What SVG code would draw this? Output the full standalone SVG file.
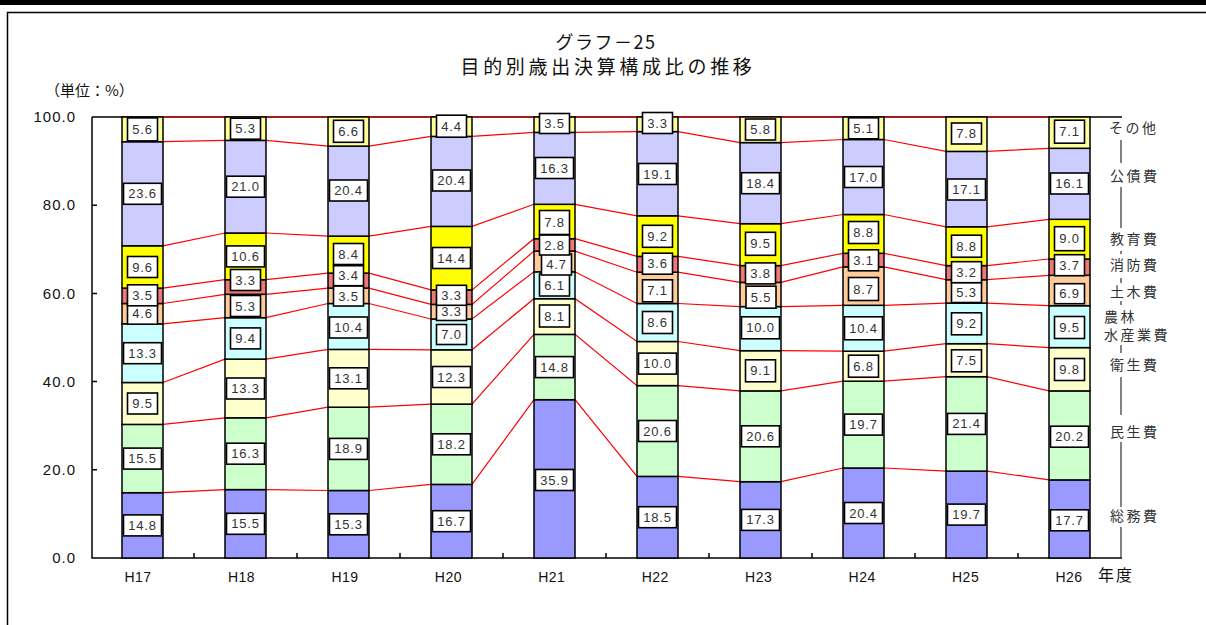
<svg xmlns="http://www.w3.org/2000/svg" width="1206" height="625" viewBox="0 0 1206 625">
<style>
.s1{fill:#9999FF}.s2{fill:#CCFFCC}.s3{fill:#FFFFCC}.s4{fill:#CCFFFF}.s5{fill:#FFCC99}.s6{fill:#F07878}.s7{fill:#FFFF00}.s8{fill:#CCCCFF}.s9{fill:#FFFF99}
.bar rect{stroke:#000;stroke-width:1.5}
.bar rect.lb{fill:#fff;stroke:#000;stroke-width:1.6}
.v{font-family:"Liberation Sans",Arial,sans-serif;font-size:13px;fill:#333;text-anchor:middle;letter-spacing:0.8px}
.conn polyline{fill:none;stroke:#FF0000;stroke-width:1.2}
.ax{stroke:#000;stroke-width:1.5;fill:none}
.yt{font-family:"Liberation Sans",Arial,sans-serif;font-size:15px;text-anchor:end;fill:#111;letter-spacing:1px}
.xt{font-family:"Liberation Sans",Arial,sans-serif;font-size:14px;text-anchor:middle;fill:#111;letter-spacing:0.5px}
.jp{font-family:"Noto Sans CJK JP",sans-serif;fill:#111}
.lg{font-family:"Noto Sans CJK JP",sans-serif;font-size:14px;fill:#333;letter-spacing:2.5px}
.lgl{stroke:#333;stroke-width:1.2}
</style>
<rect x="0" y="0" width="1206" height="625" fill="#fff"/>
<rect x="0" y="0" width="1206" height="5" fill="#000"/>
<rect x="7.5" y="12.5" width="1220" height="700" fill="none" stroke="#000" stroke-width="1.5"/>

<g id="title">
<text class="jp" x="606" y="48.5" font-size="18" letter-spacing="1.5" text-anchor="middle">グラフ－25</text>
<text class="jp" x="608" y="74" font-size="19" letter-spacing="3.7" text-anchor="middle">目的別歳出決算構成比の推移</text>
<text class="jp" x="45" y="96" font-size="15">（単位：%）</text>
</g>

<g id="axes">
<path class="ax" d="M92,117H1122M92,117V558H1122"/>
<path class="ax" d="M92,205.2H97M92,293.4H97M92,381.6H97M92,469.8H97"/>
<path class="ax" d="M194,558V553M297,558V553M400,558V553M503,558V553M606,558V553M709,558V553M812,558V553M915,558V553M1018,558V553"/>
<text class="yt" x="76" y="122">100.0</text>
<text class="yt" x="76" y="210">80.0</text>
<text class="yt" x="76" y="298.5">60.0</text>
<text class="yt" x="76" y="386.5">40.0</text>
<text class="yt" x="76" y="475">20.0</text>
<text class="yt" x="76" y="563">0.0</text>
<text class="xt" x="138" y="582">H17</text>
<text class="xt" x="241.5" y="582">H18</text>
<text class="xt" x="345" y="582">H19</text>
<text class="xt" x="448.4" y="582">H20</text>
<text class="xt" x="551.8" y="582">H21</text>
<text class="xt" x="655.3" y="582">H22</text>
<text class="xt" x="758.7" y="582">H23</text>
<text class="xt" x="862.2" y="582">H24</text>
<text class="xt" x="965.6" y="582">H25</text>
<text class="xt" x="1069" y="582">H26</text>
<text class="jp" x="1098" y="581" font-size="16" letter-spacing="2">年度</text>
</g>

<g id="connectors" class="conn">
<polyline points="163,117 1049,117"/>
<polyline points="163,492.7 225,489.6 266,489.6 328,490.5 369,490.5 431,484.4 472,484.4 534,399.7 575,399.7 637,476.4 678,476.4 740,481.7 781,481.7 843,468 884,468 946,471.1 987,471.1 1049,479.9"/>
<polyline points="163,424.4 225,417.8 266,417.8 328,407.2 369,407.2 431,404.1 472,404.1 534,334.4 575,334.4 637,385.6 678,385.6 740,390.9 781,390.9 843,381.2 884,381.2 946,376.7 987,376.7 1049,390.9"/>
<polyline points="163,382.5 225,359.1 266,359.1 328,349.4 369,349.4 431,349.8 472,349.8 534,298.7 575,298.7 637,341.5 678,341.5 740,350.7 781,350.7 843,351.2 884,351.2 946,343.7 987,343.7 1049,347.6"/>
<polyline points="163,323.8 225,317.7 266,317.7 328,303.5 369,303.5 431,319 472,319 534,271.8 575,271.8 637,303.5 678,303.5 740,306.6 781,306.6 843,305.3 884,305.3 946,303.1 987,303.1 1049,305.7"/>
<polyline points="163,303.5 225,294.3 266,294.3 328,288.1 369,288.1 431,304.4 472,304.4 534,251.1 575,251.1 637,272.2 678,272.2 740,282.4 781,282.4 843,266.9 884,266.9 946,279.7 987,279.7 1049,275.3"/>
<polyline points="163,288.1 225,279.7 266,279.7 328,273.1 369,273.1 431,289.9 472,289.9 534,238.7 575,238.7 637,256.4 678,256.4 740,265.6 781,265.6 843,253.3 884,253.3 946,265.6 987,265.6 1049,259"/>
<polyline points="163,245.8 225,233 266,233 328,236.1 369,236.1 431,226.4 472,226.4 534,204.3 575,204.3 637,215.8 678,215.8 740,223.7 781,223.7 843,214.5 884,214.5 946,226.8 987,226.8 1049,219.3"/>
<polyline points="163,141.7 225,140.4 266,140.4 328,146.1 369,146.1 431,136.4 472,136.4 534,132.4 575,132.4 637,131.6 678,131.6 740,142.6 781,142.6 843,139.5 884,139.5 946,151.4 987,151.4 1049,148.3"/>
</g>

<g id="bar-H17" class="bar">
<rect class="s1" x="122" y="492.7" width="41" height="65.3"/>
<rect class="s2" x="122" y="424.4" width="41" height="68.3"/>
<rect class="s3" x="122" y="382.5" width="41" height="41.9"/>
<rect class="s4" x="122" y="323.8" width="41" height="58.7"/>
<rect class="s5" x="122" y="303.5" width="41" height="20.3"/>
<rect class="s6" x="122" y="288.1" width="41" height="15.4"/>
<rect class="s7" x="122" y="245.8" width="41" height="42.3"/>
<rect class="s8" x="122" y="141.7" width="41" height="104.1"/>
<rect class="s9" x="122" y="117" width="41" height="24.7"/>
<g transform="translate(142.5,525.4)"><rect class="lb" x="-19" y="-10.5" width="38" height="21"/><text class="v" y="4.5">14.8</text></g>
<g transform="translate(142.5,458.6)"><rect class="lb" x="-19" y="-10.5" width="38" height="21"/><text class="v" y="4.5">15.5</text></g>
<g transform="translate(142.5,403.5)"><rect class="lb" x="-15" y="-10.5" width="30" height="21"/><text class="v" y="4.5">9.5</text></g>
<g transform="translate(142.5,353.2)"><rect class="lb" x="-19" y="-10.5" width="38" height="21"/><text class="v" y="4.5">13.3</text></g>
<g transform="translate(142.5,313.7)"><rect class="lb" x="-15" y="-10.5" width="30" height="21"/><text class="v" y="4.5">4.6</text></g>
<g transform="translate(142.5,295.3)"><rect class="lb" x="-15" y="-10.5" width="30" height="21"/><text class="v" y="4.5">3.5</text></g>
<g transform="translate(142.5,267)"><rect class="lb" x="-15" y="-10.5" width="30" height="21"/><text class="v" y="4.5">9.6</text></g>
<g transform="translate(142.5,193.8)"><rect class="lb" x="-19" y="-10.5" width="38" height="21"/><text class="v" y="4.5">23.6</text></g>
<g transform="translate(142.5,129.4)"><rect class="lb" x="-15" y="-11.5" width="30" height="23"/><text class="v" y="4.5">5.6</text></g>
</g>

<g id="bar-H18" class="bar">
<rect class="s1" x="225" y="489.6" width="41" height="68.4"/>
<rect class="s2" x="225" y="417.8" width="41" height="71.8"/>
<rect class="s3" x="225" y="359.1" width="41" height="58.7"/>
<rect class="s4" x="225" y="317.7" width="41" height="41.4"/>
<rect class="s5" x="225" y="294.3" width="41" height="23.4"/>
<rect class="s6" x="225" y="279.7" width="41" height="14.6"/>
<rect class="s7" x="225" y="233" width="41" height="46.7"/>
<rect class="s8" x="225" y="140.4" width="41" height="92.6"/>
<rect class="s9" x="225" y="117" width="41" height="23.4"/>
<g transform="translate(245.5,523.8)"><rect class="lb" x="-19" y="-10.5" width="38" height="21"/><text class="v" y="4.5">15.5</text></g>
<g transform="translate(245.5,453.7)"><rect class="lb" x="-19" y="-10.5" width="38" height="21"/><text class="v" y="4.5">16.3</text></g>
<g transform="translate(245.5,388.5)"><rect class="lb" x="-19" y="-10.5" width="38" height="21"/><text class="v" y="4.5">13.3</text></g>
<g transform="translate(245.5,338.4)"><rect class="lb" x="-15" y="-10.5" width="30" height="21"/><text class="v" y="4.5">9.4</text></g>
<g transform="translate(245.5,306)"><rect class="lb" x="-15" y="-10.5" width="30" height="21"/><text class="v" y="4.5">5.3</text></g>
<g transform="translate(245.5,280)"><rect class="lb" x="-15" y="-10.5" width="30" height="21"/><text class="v" y="4.5">3.3</text></g>
<g transform="translate(245.5,256.4)"><rect class="lb" x="-19" y="-10.5" width="38" height="21"/><text class="v" y="4.5">10.6</text></g>
<g transform="translate(245.5,186.7)"><rect class="lb" x="-19" y="-10.5" width="38" height="21"/><text class="v" y="4.5">21.0</text></g>
<g transform="translate(245.5,128.7)"><rect class="lb" x="-15" y="-10.5" width="30" height="21"/><text class="v" y="4.5">5.3</text></g>
</g>

<g id="bar-H19" class="bar">
<rect class="s1" x="328" y="490.5" width="41" height="67.5"/>
<rect class="s2" x="328" y="407.2" width="41" height="83.3"/>
<rect class="s3" x="328" y="349.4" width="41" height="57.8"/>
<rect class="s4" x="328" y="303.5" width="41" height="45.9"/>
<rect class="s5" x="328" y="288.1" width="41" height="15.4"/>
<rect class="s6" x="328" y="273.1" width="41" height="15"/>
<rect class="s7" x="328" y="236.1" width="41" height="37"/>
<rect class="s8" x="328" y="146.1" width="41" height="90"/>
<rect class="s9" x="328" y="117" width="41" height="29.1"/>
<g transform="translate(348.5,524.3)"><rect class="lb" x="-19" y="-10.5" width="38" height="21"/><text class="v" y="4.5">15.3</text></g>
<g transform="translate(348.5,448.9)"><rect class="lb" x="-19" y="-10.5" width="38" height="21"/><text class="v" y="4.5">18.9</text></g>
<g transform="translate(348.5,378.3)"><rect class="lb" x="-19" y="-10.5" width="38" height="21"/><text class="v" y="4.5">13.1</text></g>
<g transform="translate(348.5,327.5)"><rect class="lb" x="-19" y="-10.5" width="38" height="21"/><text class="v" y="4.5">10.4</text></g>
<g transform="translate(348.5,296)"><rect class="lb" x="-15" y="-10" width="30" height="20"/><text class="v" y="4.5">3.5</text></g>
<g transform="translate(348.5,275.7)"><rect class="lb" x="-15" y="-10" width="30" height="20"/><text class="v" y="4.5">3.4</text></g>
<g transform="translate(348.5,254)"><rect class="lb" x="-15" y="-10.5" width="30" height="21"/><text class="v" y="4.5">8.4</text></g>
<g transform="translate(348.5,190.5)"><rect class="lb" x="-19" y="-10.5" width="38" height="21"/><text class="v" y="4.5">20.4</text></g>
<g transform="translate(348.5,131.3)"><rect class="lb" x="-15" y="-11" width="30" height="22"/><text class="v" y="4.5">6.6</text></g>
</g>

<g id="bar-H20" class="bar">
<rect class="s1" x="431" y="484.4" width="41" height="73.6"/>
<rect class="s2" x="431" y="404.1" width="41" height="80.3"/>
<rect class="s3" x="431" y="349.8" width="41" height="54.3"/>
<rect class="s4" x="431" y="319" width="41" height="30.8"/>
<rect class="s5" x="431" y="304.4" width="41" height="14.6"/>
<rect class="s6" x="431" y="289.9" width="41" height="14.5"/>
<rect class="s7" x="431" y="226.4" width="41" height="63.5"/>
<rect class="s8" x="431" y="136.4" width="41" height="90"/>
<rect class="s9" x="431" y="117" width="41" height="19.4"/>
<g transform="translate(451.5,521.2)"><rect class="lb" x="-19" y="-10.5" width="38" height="21"/><text class="v" y="4.5">16.7</text></g>
<g transform="translate(451.5,444.3)"><rect class="lb" x="-19" y="-10.5" width="38" height="21"/><text class="v" y="4.5">18.2</text></g>
<g transform="translate(451.5,377)"><rect class="lb" x="-19" y="-10.5" width="38" height="21"/><text class="v" y="4.5">12.3</text></g>
<g transform="translate(451.5,334.5)"><rect class="lb" x="-15" y="-10" width="30" height="20"/><text class="v" y="4.5">7.0</text></g>
<g transform="translate(451.5,311.5)"><rect class="lb" x="-15" y="-9" width="30" height="18"/><text class="v" y="4.5">3.3</text></g>
<g transform="translate(451.5,295.3)"><rect class="lb" x="-15" y="-10" width="30" height="20"/><text class="v" y="4.5">3.3</text></g>
<g transform="translate(451.5,258)"><rect class="lb" x="-19" y="-10.5" width="38" height="21"/><text class="v" y="4.5">14.4</text></g>
<g transform="translate(451.5,180.5)"><rect class="lb" x="-19" y="-10.5" width="38" height="21"/><text class="v" y="4.5">20.4</text></g>
<g transform="translate(451.5,126.2)"><rect class="lb" x="-15" y="-11" width="30" height="22"/><text class="v" y="4.5">4.4</text></g>
</g>

<g id="bar-H21" class="bar">
<rect class="s1" x="534" y="399.7" width="41" height="158.3"/>
<rect class="s2" x="534" y="334.4" width="41" height="65.3"/>
<rect class="s3" x="534" y="298.7" width="41" height="35.7"/>
<rect class="s4" x="534" y="271.8" width="41" height="26.9"/>
<rect class="s5" x="534" y="251.1" width="41" height="20.7"/>
<rect class="s6" x="534" y="238.7" width="41" height="12.4"/>
<rect class="s7" x="534" y="204.3" width="41" height="34.4"/>
<rect class="s8" x="534" y="132.4" width="41" height="71.9"/>
<rect class="s9" x="534" y="117" width="41" height="15.4"/>
<g transform="translate(554.5,480)"><rect class="lb" x="-19" y="-10.5" width="38" height="21"/><text class="v" y="4.5">35.9</text></g>
<g transform="translate(554.5,367.1)"><rect class="lb" x="-19" y="-10.5" width="38" height="21"/><text class="v" y="4.5">14.8</text></g>
<g transform="translate(554.5,316)"><rect class="lb" x="-15" y="-11" width="30" height="22"/><text class="v" y="4.5">8.1</text></g>
<g transform="translate(554.5,285)"><rect class="lb" x="-15" y="-11" width="30" height="22"/><text class="v" y="4.5">6.1</text></g>
<g transform="translate(556.5,264.5)"><rect class="lb" x="-15" y="-10.5" width="30" height="21"/><text class="v" y="4.5">4.7</text></g>
<g transform="translate(554.5,245)"><rect class="lb" x="-15" y="-10" width="30" height="20"/><text class="v" y="4.5">2.8</text></g>
<g transform="translate(554.5,222.5)"><rect class="lb" x="-15" y="-12" width="30" height="24"/><text class="v" y="4.5">7.8</text></g>
<g transform="translate(554.5,168)"><rect class="lb" x="-19" y="-10.5" width="38" height="21"/><text class="v" y="4.5">16.3</text></g>
<g transform="translate(554.5,123.5)"><rect class="lb" x="-15" y="-10" width="30" height="20"/><text class="v" y="4.5">3.5</text></g>
</g>

<g id="bar-H22" class="bar">
<rect class="s1" x="637" y="476.4" width="41" height="81.6"/>
<rect class="s2" x="637" y="385.6" width="41" height="90.8"/>
<rect class="s3" x="637" y="341.5" width="41" height="44.1"/>
<rect class="s4" x="637" y="303.5" width="41" height="38"/>
<rect class="s5" x="637" y="272.2" width="41" height="31.3"/>
<rect class="s6" x="637" y="256.4" width="41" height="15.8"/>
<rect class="s7" x="637" y="215.8" width="41" height="40.6"/>
<rect class="s8" x="637" y="131.6" width="41" height="84.2"/>
<rect class="s9" x="637" y="117" width="41" height="14.6"/>
<g transform="translate(657.5,517.2)"><rect class="lb" x="-19" y="-10.5" width="38" height="21"/><text class="v" y="4.5">18.5</text></g>
<g transform="translate(657.5,431)"><rect class="lb" x="-19" y="-10.5" width="38" height="21"/><text class="v" y="4.5">20.6</text></g>
<g transform="translate(657.5,363.6)"><rect class="lb" x="-19" y="-10.5" width="38" height="21"/><text class="v" y="4.5">10.0</text></g>
<g transform="translate(657.5,322.5)"><rect class="lb" x="-15" y="-11" width="30" height="22"/><text class="v" y="4.5">8.6</text></g>
<g transform="translate(657.5,290.8)"><rect class="lb" x="-15" y="-11" width="30" height="22"/><text class="v" y="4.5">7.1</text></g>
<g transform="translate(657.5,263.7)"><rect class="lb" x="-15" y="-10.5" width="30" height="21"/><text class="v" y="4.5">3.6</text></g>
<g transform="translate(657.5,236.3)"><rect class="lb" x="-15" y="-11" width="30" height="22"/><text class="v" y="4.5">9.2</text></g>
<g transform="translate(657.5,174)"><rect class="lb" x="-19" y="-10.5" width="38" height="21"/><text class="v" y="4.5">19.1</text></g>
<g transform="translate(657.5,123)"><rect class="lb" x="-15" y="-10.5" width="30" height="21"/><text class="v" y="4.5">3.3</text></g>
</g>

<g id="bar-H23" class="bar">
<rect class="s1" x="740" y="481.7" width="41" height="76.3"/>
<rect class="s2" x="740" y="390.9" width="41" height="90.8"/>
<rect class="s3" x="740" y="350.7" width="41" height="40.2"/>
<rect class="s4" x="740" y="306.6" width="41" height="44.1"/>
<rect class="s5" x="740" y="282.4" width="41" height="24.2"/>
<rect class="s6" x="740" y="265.6" width="41" height="16.8"/>
<rect class="s7" x="740" y="223.7" width="41" height="41.9"/>
<rect class="s8" x="740" y="142.6" width="41" height="81.1"/>
<rect class="s9" x="740" y="117" width="41" height="25.6"/>
<g transform="translate(760.5,519.9)"><rect class="lb" x="-19" y="-10.5" width="38" height="21"/><text class="v" y="4.5">17.3</text></g>
<g transform="translate(760.5,436.3)"><rect class="lb" x="-19" y="-10.5" width="38" height="21"/><text class="v" y="4.5">20.6</text></g>
<g transform="translate(760.5,370.8)"><rect class="lb" x="-15" y="-11" width="30" height="22"/><text class="v" y="4.5">9.1</text></g>
<g transform="translate(760.5,327.8)"><rect class="lb" x="-19" y="-11" width="38" height="22"/><text class="v" y="4.5">10.0</text></g>
<g transform="translate(761,297.2)"><rect class="lb" x="-15" y="-11" width="30" height="22"/><text class="v" y="4.5">5.5</text></g>
<g transform="translate(760.5,273.4)"><rect class="lb" x="-15" y="-10.5" width="30" height="21"/><text class="v" y="4.5">3.8</text></g>
<g transform="translate(760.5,243.8)"><rect class="lb" x="-15" y="-11.5" width="30" height="23"/><text class="v" y="4.5">9.5</text></g>
<g transform="translate(760.5,183.2)"><rect class="lb" x="-19" y="-10.5" width="38" height="21"/><text class="v" y="4.5">18.4</text></g>
<g transform="translate(760.5,129.5)"><rect class="lb" x="-15" y="-10.5" width="30" height="21"/><text class="v" y="4.5">5.8</text></g>
</g>

<g id="bar-H24" class="bar">
<rect class="s1" x="843" y="468" width="41" height="90"/>
<rect class="s2" x="843" y="381.2" width="41" height="86.8"/>
<rect class="s3" x="843" y="351.2" width="41" height="30"/>
<rect class="s4" x="843" y="305.3" width="41" height="45.9"/>
<rect class="s5" x="843" y="266.9" width="41" height="38.4"/>
<rect class="s6" x="843" y="253.3" width="41" height="13.6"/>
<rect class="s7" x="843" y="214.5" width="41" height="38.8"/>
<rect class="s8" x="843" y="139.5" width="41" height="75"/>
<rect class="s9" x="843" y="117" width="41" height="22.5"/>
<g transform="translate(863.5,513)"><rect class="lb" x="-19" y="-10.5" width="38" height="21"/><text class="v" y="4.5">20.4</text></g>
<g transform="translate(863.5,424.6)"><rect class="lb" x="-19" y="-10.5" width="38" height="21"/><text class="v" y="4.5">19.7</text></g>
<g transform="translate(863.5,366.2)"><rect class="lb" x="-15" y="-11" width="30" height="22"/><text class="v" y="4.5">6.8</text></g>
<g transform="translate(863.5,328.3)"><rect class="lb" x="-19" y="-11.5" width="38" height="23"/><text class="v" y="4.5">10.4</text></g>
<g transform="translate(863.5,289)"><rect class="lb" x="-15" y="-11.5" width="30" height="23"/><text class="v" y="4.5">8.7</text></g>
<g transform="translate(863.5,260.3)"><rect class="lb" x="-15" y="-10.5" width="30" height="21"/><text class="v" y="4.5">3.1</text></g>
<g transform="translate(863.5,232.5)"><rect class="lb" x="-15" y="-11" width="30" height="22"/><text class="v" y="4.5">8.8</text></g>
<g transform="translate(863.5,177)"><rect class="lb" x="-19" y="-10.5" width="38" height="21"/><text class="v" y="4.5">17.0</text></g>
<g transform="translate(863.5,128.3)"><rect class="lb" x="-15" y="-10.5" width="30" height="21"/><text class="v" y="4.5">5.1</text></g>
</g>

<g id="bar-H25" class="bar">
<rect class="s1" x="946" y="471.1" width="41" height="86.9"/>
<rect class="s2" x="946" y="376.7" width="41" height="94.4"/>
<rect class="s3" x="946" y="343.7" width="41" height="33"/>
<rect class="s4" x="946" y="303.1" width="41" height="40.6"/>
<rect class="s5" x="946" y="279.7" width="41" height="23.4"/>
<rect class="s6" x="946" y="265.6" width="41" height="14.1"/>
<rect class="s7" x="946" y="226.8" width="41" height="38.8"/>
<rect class="s8" x="946" y="151.4" width="41" height="75.4"/>
<rect class="s9" x="946" y="117" width="41" height="34.4"/>
<g transform="translate(966.5,514.6)"><rect class="lb" x="-19" y="-10.5" width="38" height="21"/><text class="v" y="4.5">19.7</text></g>
<g transform="translate(966.5,423.9)"><rect class="lb" x="-19" y="-10.5" width="38" height="21"/><text class="v" y="4.5">21.4</text></g>
<g transform="translate(966.5,360.8)"><rect class="lb" x="-15" y="-11" width="30" height="22"/><text class="v" y="4.5">7.5</text></g>
<g transform="translate(966.5,323.8)"><rect class="lb" x="-15" y="-11" width="30" height="22"/><text class="v" y="4.5">9.2</text></g>
<g transform="translate(966.5,292.5)"><rect class="lb" x="-15" y="-10" width="30" height="20"/><text class="v" y="4.5">5.3</text></g>
<g transform="translate(966.5,272.2)"><rect class="lb" x="-15" y="-10.5" width="30" height="21"/><text class="v" y="4.5">3.2</text></g>
<g transform="translate(966.5,246.2)"><rect class="lb" x="-15" y="-11" width="30" height="22"/><text class="v" y="4.5">8.8</text></g>
<g transform="translate(966.5,189.5)"><rect class="lb" x="-19" y="-10.5" width="38" height="21"/><text class="v" y="4.5">17.1</text></g>
<g transform="translate(966.5,133.5)"><rect class="lb" x="-15" y="-10.5" width="30" height="21"/><text class="v" y="4.5">7.8</text></g>
</g>

<g id="bar-H26" class="bar">
<rect class="s1" x="1049" y="479.9" width="41" height="78.1"/>
<rect class="s2" x="1049" y="390.9" width="41" height="89"/>
<rect class="s3" x="1049" y="347.6" width="41" height="43.3"/>
<rect class="s4" x="1049" y="305.7" width="41" height="41.9"/>
<rect class="s5" x="1049" y="275.3" width="41" height="30.4"/>
<rect class="s6" x="1049" y="259" width="41" height="16.3"/>
<rect class="s7" x="1049" y="219.3" width="41" height="39.7"/>
<rect class="s8" x="1049" y="148.3" width="41" height="71"/>
<rect class="s9" x="1049" y="117" width="41" height="31.3"/>
<g transform="translate(1069.5,520.3)"><rect class="lb" x="-19" y="-10.5" width="38" height="21"/><text class="v" y="4.5">17.7</text></g>
<g transform="translate(1069.5,436.7)"><rect class="lb" x="-19" y="-10.5" width="38" height="21"/><text class="v" y="4.5">20.2</text></g>
<g transform="translate(1069.5,369.5)"><rect class="lb" x="-15" y="-11" width="30" height="22"/><text class="v" y="4.5">9.8</text></g>
<g transform="translate(1069.5,327.5)"><rect class="lb" x="-15" y="-11" width="30" height="22"/><text class="v" y="4.5">9.5</text></g>
<g transform="translate(1069.5,293.7)"><rect class="lb" x="-15" y="-10" width="30" height="20"/><text class="v" y="4.5">6.9</text></g>
<g transform="translate(1069.5,265.2)"><rect class="lb" x="-15" y="-10.5" width="30" height="21"/><text class="v" y="4.5">3.7</text></g>
<g transform="translate(1069.5,238.7)"><rect class="lb" x="-15" y="-12" width="30" height="24"/><text class="v" y="4.5">9.0</text></g>
<g transform="translate(1069.5,183.5)"><rect class="lb" x="-19" y="-10.5" width="38" height="21"/><text class="v" y="4.5">16.1</text></g>
<g transform="translate(1069.5,131.7)"><rect class="lb" x="-15" y="-11.5" width="30" height="23"/><text class="v" y="4.5">7.1</text></g>
</g>

<g id="legend">
<path class="lgl" d="M1121,140V163M1121,187V228M1121,251V254M1121,278V283M1121,301V305M1121,345V353M1121,377V415M1121,442V507M1121,527V558"/>
<text class="lg" x="1109" y="133">その他</text>
<text class="lg" x="1110" y="181">公債費</text>
<text class="lg" x="1110" y="244">教育費</text>
<text class="lg" x="1110" y="270">消防費</text>
<text class="lg" x="1110" y="297">土木費</text>
<text class="lg" x="1104" y="322">農林</text>
<text class="lg" x="1104" y="340">水産業費</text>
<text class="lg" x="1110" y="370">衛生費</text>
<text class="lg" x="1110" y="437">民生費</text>
<text class="lg" x="1110" y="521">総務費</text>
</g>
</svg>
